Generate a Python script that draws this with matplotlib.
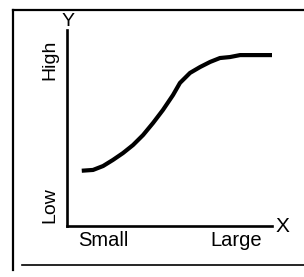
import matplotlib
matplotlib.use("Agg")
import matplotlib.pyplot as plt
from matplotlib.lines import Line2D

# Data (arbitrary 0-10 scale)
x_vals = [0.72, 1.27, 1.76, 2.24, 2.73, 3.22, 3.71, 4.20, 4.68, 5.17, 5.51,
          6.00, 6.49, 6.98, 7.46, 7.95, 8.44, 9.90, 10.05]
y_vals = [2.82, 2.86, 3.06, 3.37, 3.72, 4.13, 4.64, 5.26, 5.92, 6.68, 7.30,
          7.81, 8.11, 8.37, 8.57, 8.62, 8.72, 8.72, 8.72]
x_labels = ["Small", "Large"]
x_label_pos = [1.76, 8.27]
y_labels = ["High", "Low"]
y_label_pos = [8.5, 1.07]

W, H = 304, 277
fig = plt.figure(figsize=(W / 100, H / 100), dpi=100)
plt.rcParams['font.family'] = ['Liberation Sans', 'DejaVu Sans']

def fx(px):
    return px / W

def fy(py):
    return 1 - py / H

# outer frame
fig.add_artist(Line2D([fx(13), fx(304)], [fy(10), fy(10)], color='black', lw=1.6))
fig.add_artist(Line2D([fx(13), fx(13)], [fy(10), fy(270)], color='black', lw=1.6))
fig.add_artist(Line2D([fx(22), fx(304)], [fy(265), fy(265)], color='black', lw=1.2))

ax = fig.add_axes([67 / W, 1 - 226 / H, 205 / W, 196 / H])
ax.set_xlim(0, 10)
ax.set_ylim(0, 10)
for s in ['top', 'right']:
    ax.spines[s].set_visible(False)
for s in ['left', 'bottom']:
    ax.spines[s].set_linewidth(1.9)
ax.set_xticks([])
ax.set_yticks([])
ax.patch.set_alpha(0)

ax.plot(x_vals, y_vals, color='black', lw=3.0, solid_capstyle='butt', solid_joinstyle='round')

for lab, pos in zip(x_labels, x_label_pos):
    t = ax.text(pos, -0.72, lab, ha='center', va='center', fontsize=14.5)
    t.set_clip_on(False)
for lab, pos in zip(y_labels, y_label_pos):
    t = ax.text(-0.82, pos, lab, ha='center', va='center', fontsize=14, rotation=90)
    t.set_clip_on(False)

ax.text(10.5, 0.0, "X", ha='center', va='center', fontsize=15, clip_on=False)
ax.text(0.05, 10.45, "Y", ha='center', va='center', fontsize=14, clip_on=False)

fig.savefig("out.png", dpi=100)
